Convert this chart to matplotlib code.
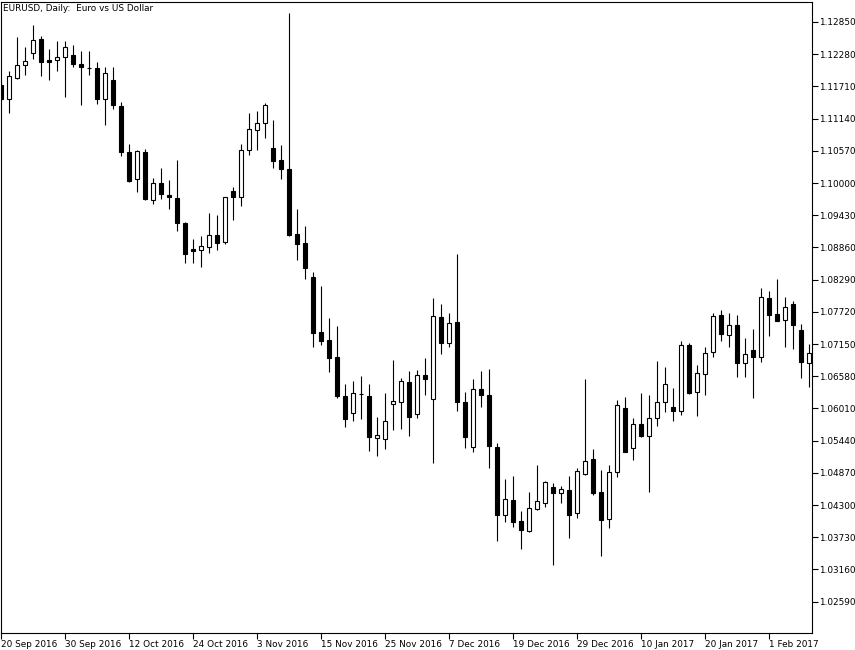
import matplotlib
matplotlib.use('Agg')
import matplotlib.pyplot as plt
import numpy as np

TITLE = 'EURUSD, Daily:  Euro vs US Dollar'

# daily OHLC, 20 Sep 2016 .. 8 Feb 2017
opens = [1.1173, 1.1149, 1.1186, 1.1209, 1.1230, 1.1255, 1.1218, 1.1218, 1.1223, 1.1227,
         1.1211, 1.1204, 1.1204, 1.1149, 1.1182, 1.1136, 1.1055, 1.1007, 1.1055, 1.0970,
         1.1000, 1.0979, 1.0973, 1.0929, 1.0883, 1.0881, 1.0887, 1.0908, 1.0896, 1.0986,
         1.0975, 1.1058, 1.1094, 1.1106, 1.1062, 1.1041, 1.1025, 1.0910, 1.0894, 1.0834,
         1.0736, 1.0722, 1.0692, 1.0623, 1.0593, 1.0627, 1.0623, 1.0549, 1.0547, 1.0609,
         1.0612, 1.0648, 1.0591, 1.0660, 1.0618, 1.0763, 1.0717, 1.0754, 1.0612, 1.0533,
         1.0635, 1.0625, 1.0533, 1.0412, 1.0439, 1.0402, 1.0384, 1.0423, 1.0434, 1.0462,
         1.0451, 1.0457, 1.0416, 1.0485, 1.0512, 1.0453, 1.0405, 1.0489, 1.0602, 1.0531,
         1.0573, 1.0552, 1.0584, 1.0612, 1.0604, 1.0596, 1.0713, 1.0630, 1.0662, 1.0701,
         1.0766, 1.0731, 1.0749, 1.0681, 1.0704, 1.0692, 1.0796, 1.0768, 1.0758, 1.0786,
         1.0740, 1.0681]
highs = [1.1182, 1.1198, 1.1258, 1.1241, 1.1280, 1.1260, 1.1237, 1.1251, 1.1251, 1.1244,
         1.1234, 1.1234, 1.1214, 1.1205, 1.1205, 1.1143, 1.1069, 1.1058, 1.1060, 1.1009,
         1.1027, 1.1005, 1.1041, 1.0931, 1.0901, 1.0906, 1.0947, 1.0943, 1.0976, 1.0993,
         1.1069, 1.1124, 1.1127, 1.1142, 1.1112, 1.1067, 1.1301, 1.0954, 1.0924, 1.0843,
         1.0818, 1.0761, 1.0747, 1.0644, 1.0650, 1.0658, 1.0644, 1.0586, 1.0628, 1.0687,
         1.0655, 1.0667, 1.0669, 1.0690, 1.0796, 1.0786, 1.0770, 1.0874, 1.0630, 1.0653,
         1.0667, 1.0671, 1.0540, 1.0476, 1.0481, 1.0419, 1.0453, 1.0501, 1.0472, 1.0469,
         1.0464, 1.0481, 1.0496, 1.0653, 1.0529, 1.0492, 1.0501, 1.0616, 1.0621, 1.0584,
         1.0628, 1.0625, 1.0685, 1.0674, 1.0637, 1.0720, 1.0717, 1.0678, 1.0710, 1.0770,
         1.0775, 1.0770, 1.0766, 1.0726, 1.0742, 1.0814, 1.0809, 1.0830, 1.0798, 1.0791,
         1.0750, 1.0715]
lows = [1.1145, 1.1124, 1.1184, 1.1191, 1.1220, 1.1189, 1.1182, 1.1198, 1.1152, 1.1205,
        1.1138, 1.1191, 1.1140, 1.1103, 1.1131, 1.1048, 1.1002, 1.0984, 1.0970, 1.0963,
        1.0972, 1.0954, 1.0915, 1.0858, 1.0858, 1.0851, 1.0876, 1.0881, 1.0892, 1.0935,
        1.0959, 1.1050, 1.1058, 1.1080, 1.1027, 1.1007, 1.0906, 1.0864, 1.0830, 1.0710,
        1.0713, 1.0666, 1.0619, 1.0568, 1.0579, 1.0582, 1.0526, 1.0517, 1.0529, 1.0563,
        1.0565, 1.0552, 1.0584, 1.0625, 1.0504, 1.0697, 1.0710, 1.0596, 1.0531, 1.0524,
        1.0604, 1.0496, 1.0366, 1.0400, 1.0391, 1.0352, 1.0382, 1.0422, 1.0427, 1.0324,
        1.0434, 1.0372, 1.0407, 1.0484, 1.0448, 1.0340, 1.0389, 1.0480, 1.0523, 1.0510,
        1.0550, 1.0453, 1.0570, 1.0595, 1.0579, 1.0589, 1.0627, 1.0588, 1.0625, 1.0692,
        1.0720, 1.0710, 1.0657, 1.0657, 1.0619, 1.0683, 1.0729, 1.0755, 1.0710, 1.0706,
        1.0655, 1.0639]
closes = [1.1149, 1.1189, 1.1209, 1.1216, 1.1253, 1.1214, 1.1214, 1.1223, 1.1241, 1.1211,
          1.1205, 1.1204, 1.1149, 1.1195, 1.1138, 1.1055, 1.1004, 1.1057, 1.0972, 1.1000,
          1.0981, 1.0975, 1.0929, 1.0874, 1.0880, 1.0889, 1.0908, 1.0894, 1.0975, 1.0975,
          1.1058, 1.1096, 1.1106, 1.1138, 1.1039, 1.1025, 1.0908, 1.0892, 1.0850, 1.0735,
          1.0720, 1.0690, 1.0623, 1.0582, 1.0628, 1.0627, 1.0550, 1.0554, 1.0579, 1.0614,
          1.0650, 1.0586, 1.0660, 1.0653, 1.0765, 1.0717, 1.0752, 1.0612, 1.0550, 1.0635,
          1.0625, 1.0535, 1.0412, 1.0441, 1.0400, 1.0386, 1.0425, 1.0437, 1.0471, 1.0451,
          1.0458, 1.0412, 1.0490, 1.0508, 1.0451, 1.0404, 1.0489, 1.0607, 1.0524, 1.0573,
          1.0552, 1.0584, 1.0612, 1.0644, 1.0596, 1.0713, 1.0628, 1.0664, 1.0699, 1.0765,
          1.0733, 1.0749, 1.0681, 1.0697, 1.0692, 1.0798, 1.0766, 1.0756, 1.0781, 1.0749,
          1.0683, 1.0699]

date_labels = ['20 Sep 2016', '30 Sep 2016', '12 Oct 2016', '24 Oct 2016', '3 Nov 2016',
               '15 Nov 2016', '25 Nov 2016', '7 Dec 2016', '19 Dec 2016', '29 Dec 2016',
               '10 Jan 2017', '20 Jan 2017', '1 Feb 2017']
LABEL_STEP = 8

price_ticks = [1.12850, 1.12280, 1.11710, 1.11140, 1.10570, 1.10000, 1.09430, 1.08860,
               1.08290, 1.07720, 1.07150, 1.06580, 1.06010, 1.05440, 1.04870, 1.04300,
               1.03730, 1.03160, 1.02590]

FONT = 6.4
LW = 0.8

o = np.array(opens)
h = np.array(highs)
l = np.array(lows)
c = np.array(closes)
x = np.arange(len(o))
up = c > o

fig = plt.figure(figsize=(8.55, 6.5), dpi=100)
ax = fig.add_axes([1 / 855, 17 / 650, 811 / 855, 631 / 650])

ax.vlines(x, l, h, color='black', linewidth=LW, zorder=2)
lo = np.minimum(o, c)
hgt = np.abs(c - o)
ax.bar(x[up], hgt[up], bottom=lo[up], width=0.55, facecolor='white',
       edgecolor='black', linewidth=LW, zorder=3)
ax.bar(x[~up], hgt[~up], bottom=lo[~up], width=0.55, facecolor='black',
       edgecolor='black', linewidth=LW, zorder=3)

ax.set_xlim(-0.0375, 101.34)
ax.set_ylim(1.02035, 1.13204)

ax.yaxis.tick_right()
ax.set_yticks(price_ticks)
ax.set_yticklabels(['%.5f' % p for p in price_ticks])
ax.tick_params(axis='y', direction='out', length=4, width=LW, labelsize=FONT, pad=1)

ax.set_xticks(np.arange(len(date_labels)) * LABEL_STEP)
ax.set_xticklabels(date_labels, ha='left')
ax.tick_params(axis='x', direction='out', length=4, width=LW, labelsize=FONT, pad=1)

for s in ax.spines.values():
    s.set_linewidth(LW)

ax.annotate(TITLE, xy=(0, 1), xycoords='axes fraction', xytext=(2, -2),
            textcoords='offset pixels', ha='left', va='top', fontsize=FONT)

fig.savefig('out.png', dpi=100)
